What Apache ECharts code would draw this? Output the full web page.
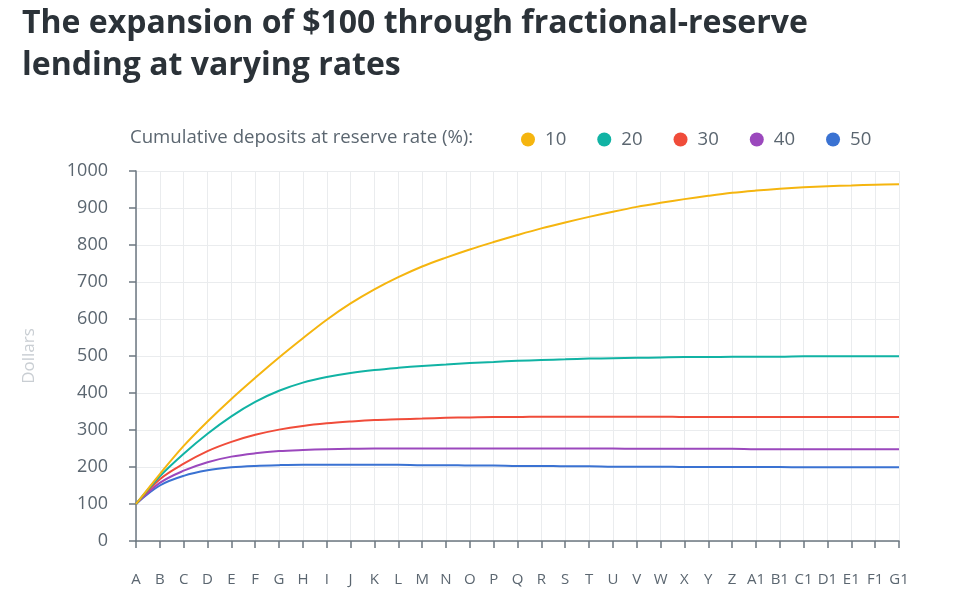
<!DOCTYPE html>
<html>
<head>
<meta charset="utf-8">
<script src="https://cdn.jsdelivr.net/npm/echarts@6/dist/echarts.min.js"></script>
<style>
html,body{margin:0;padding:0;background:#fff;}
#chart{width:958px;height:597px;}
</style>
</head>
<body>
<div id="chart"></div>
<script>
var categories = ["A","B","C","D","E","F","G","H","I","J","K","L","M","N","O","P","Q","R","S","T","U","V","W","X","Y","Z","A1","B1","C1","D1","E1","F1","G1"];
var rate10 = [100,181,257,323,384,441,496,548,598,642,680,713,742,766,788,808,827,845,861,876,890,903,914,924,933,941,947,952,956,959,961,963,964];
var rate20 = [100,175,236,290,337,376,406,428,443,454,462,468,473,477,481,484,487,489,491,493,494,495,496,497,497,498,498,498,499,499,499,499,499];
var rate30 = [100,167,209,243,268,287,301,311,318,323,327,329,331,333,334,335,335,336,336,336,336,336,336,335,335,335,335,335,335,335,335,335,335];
var rate40 = [100,157,190,213,228,237,243,246,248,249,250,250,250,250,250,250,250,250,250,250,250,249,249,249,249,249,248,248,248,248,248,248,248];
var rate50 = [100,150,176,191,199,203,205,206,206,206,206,206,205,205,204,204,203,203,202,202,201,201,201,200,200,200,200,200,199,199,199,199,199];
var seriesNames = ["10","20","30","40","50"];
var yTicks = {min:0, max:1000, interval:100};

var colors = ['#f5b50f','#11b3a4','#f04c3a','#9b48bd','#3a72d2'];
var dataSets = [rate10, rate20, rate30, rate40, rate50];
var font = '"Open Sans", "Noto Sans", sans-serif';

var chart = echarts.init(document.getElementById('chart'), null, {renderer:'canvas'});
chart.setOption({
  animation:false,
  color: colors,
  title: {
    text: 'The expansion of $100 through fractional-reserve\nlending at varying rates',
    left: 17, top: -2,
    textStyle: {fontFamily: font, fontSize: 32, fontWeight: 'bold', color: '#2b3238', lineHeight: 42}
  },
  graphic: [{
    type: 'text', left: 130, top: 128,
    style: {text: 'Cumulative deposits at reserve rate (%):', fontFamily: font, fontSize: 18.6, fill: '#5b6670'}
  }],
  legend: {
    left: 516, top: 125,
    icon: 'circle', itemWidth: 14, itemHeight: 14, itemGap: 31,
    textStyle: {fontFamily: font, fontSize: 18.6, color: '#5b6670', padding: [0,0,0,5]},
    data: seriesNames
  },
  grid: {left: 136, right: 59, top: 171, bottom: 56, containLabel: false},
  xAxis: {
    type: 'category', data: categories, boundaryGap: false,
    axisLine: {lineStyle: {color: '#6c7780', width: 1.5}},
    axisTick: {show: true, length: 7, lineStyle: {color: '#6c7780', width: 1.5}},
    axisLabel: {interval: 0, fontFamily: font, fontSize: 15, color: '#5b6670', margin: 31},
    splitLine: {show: true, interval: 0, lineStyle: {color: '#eaecee', width: 1}}
  },
  yAxis: {
    type: 'value', min: yTicks.min, max: yTicks.max, interval: yTicks.interval,
    name: 'Dollars', nameLocation: 'middle', nameGap: 98, nameRotate: 90,
    nameTextStyle: {fontFamily: font, fontSize: 17, color: '#c9ced3'},
    axisLine: {show: true, lineStyle: {color: '#6c7780', width: 1.5}},
    axisTick: {show: true, length: 7, lineStyle: {color: '#6c7780', width: 1.5}},
    axisLabel: {fontFamily: font, fontSize: 18, color: '#5b6670', margin: 28, formatter: function(v){ return String(v); }},
    splitLine: {show: true, lineStyle: {color: '#eaecee', width: 1}}
  },
  series: dataSets.map(function(d, i){
    return {
      name: seriesNames[i], type: 'line', data: d, smooth: 0.35,
      showSymbol: false, symbol: 'circle',
      lineStyle: {width: 2, color: colors[i]},
      itemStyle: {color: colors[i]},
      z: 10 - i
    };
  })
});
</script>
</body>
</html>
